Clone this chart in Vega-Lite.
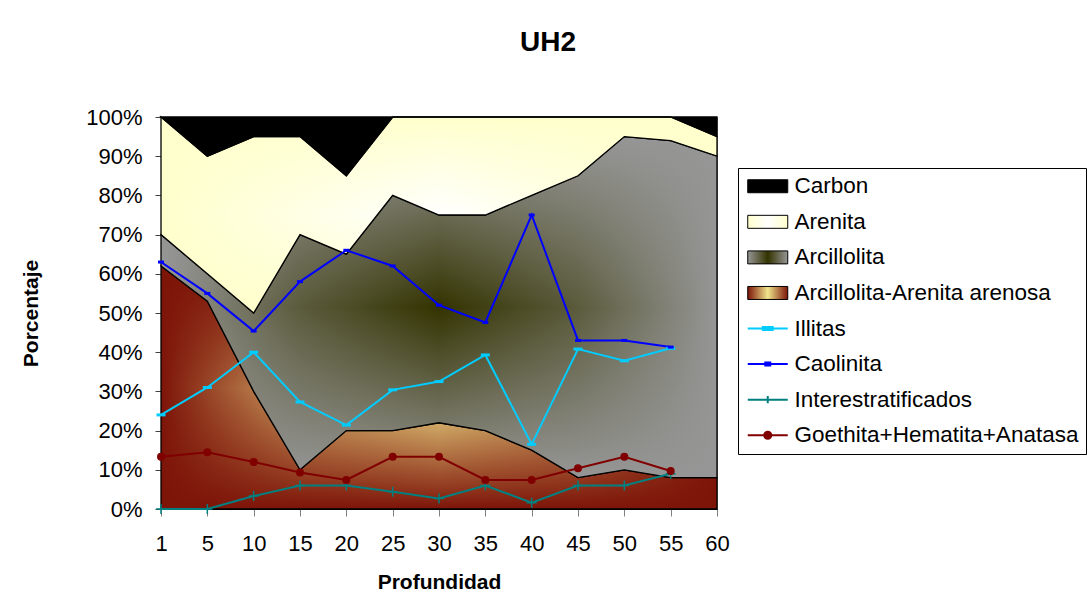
{
  "$schema": "https://vega.github.io/schema/vega-lite/v6.json",
  "width": 556,
  "height": 392,
  "autosize": {"type": "none"},
  "padding": {"left": 161, "top": 117, "right": 374, "bottom": 95},
  "background": "#ffffff",
  "title": {"text": "UH2", "fontSize": 28, "fontWeight": "bold", "font": "Liberation Sans", "anchor": "middle", "frame": "group", "dx": 109, "offset": 49, "color": "#000000"},
  "datasets": {
    "areas": [
      {"p": 1, "serie": "Arcillolita-Arenita arenosa", "orden": 1, "v": 62},
      {"p": 5, "serie": "Arcillolita-Arenita arenosa", "orden": 1, "v": 53},
      {"p": 10, "serie": "Arcillolita-Arenita arenosa", "orden": 1, "v": 30},
      {"p": 15, "serie": "Arcillolita-Arenita arenosa", "orden": 1, "v": 10},
      {"p": 20, "serie": "Arcillolita-Arenita arenosa", "orden": 1, "v": 20},
      {"p": 25, "serie": "Arcillolita-Arenita arenosa", "orden": 1, "v": 20},
      {"p": 30, "serie": "Arcillolita-Arenita arenosa", "orden": 1, "v": 22},
      {"p": 35, "serie": "Arcillolita-Arenita arenosa", "orden": 1, "v": 20},
      {"p": 40, "serie": "Arcillolita-Arenita arenosa", "orden": 1, "v": 15},
      {"p": 45, "serie": "Arcillolita-Arenita arenosa", "orden": 1, "v": 8},
      {"p": 50, "serie": "Arcillolita-Arenita arenosa", "orden": 1, "v": 10},
      {"p": 55, "serie": "Arcillolita-Arenita arenosa", "orden": 1, "v": 8},
      {"p": 60, "serie": "Arcillolita-Arenita arenosa", "orden": 1, "v": 8},
      {"p": 1, "serie": "Arcillolita", "orden": 2, "v": 8},
      {"p": 5, "serie": "Arcillolita", "orden": 2, "v": 7},
      {"p": 10, "serie": "Arcillolita", "orden": 2, "v": 20},
      {"p": 15, "serie": "Arcillolita", "orden": 2, "v": 60},
      {"p": 20, "serie": "Arcillolita", "orden": 2, "v": 45},
      {"p": 25, "serie": "Arcillolita", "orden": 2, "v": 60},
      {"p": 30, "serie": "Arcillolita", "orden": 2, "v": 53},
      {"p": 35, "serie": "Arcillolita", "orden": 2, "v": 55},
      {"p": 40, "serie": "Arcillolita", "orden": 2, "v": 65},
      {"p": 45, "serie": "Arcillolita", "orden": 2, "v": 77},
      {"p": 50, "serie": "Arcillolita", "orden": 2, "v": 85},
      {"p": 55, "serie": "Arcillolita", "orden": 2, "v": 86},
      {"p": 60, "serie": "Arcillolita", "orden": 2, "v": 82},
      {"p": 1, "serie": "Arenita", "orden": 3, "v": 30},
      {"p": 5, "serie": "Arenita", "orden": 3, "v": 30},
      {"p": 10, "serie": "Arenita", "orden": 3, "v": 45},
      {"p": 15, "serie": "Arenita", "orden": 3, "v": 25},
      {"p": 20, "serie": "Arenita", "orden": 3, "v": 20},
      {"p": 25, "serie": "Arenita", "orden": 3, "v": 20},
      {"p": 30, "serie": "Arenita", "orden": 3, "v": 25},
      {"p": 35, "serie": "Arenita", "orden": 3, "v": 25},
      {"p": 40, "serie": "Arenita", "orden": 3, "v": 20},
      {"p": 45, "serie": "Arenita", "orden": 3, "v": 15},
      {"p": 50, "serie": "Arenita", "orden": 3, "v": 5},
      {"p": 55, "serie": "Arenita", "orden": 3, "v": 6},
      {"p": 60, "serie": "Arenita", "orden": 3, "v": 5},
      {"p": 1, "serie": "Carbon", "orden": 4, "v": 0},
      {"p": 5, "serie": "Carbon", "orden": 4, "v": 10},
      {"p": 10, "serie": "Carbon", "orden": 4, "v": 5},
      {"p": 15, "serie": "Carbon", "orden": 4, "v": 5},
      {"p": 20, "serie": "Carbon", "orden": 4, "v": 15},
      {"p": 25, "serie": "Carbon", "orden": 4, "v": 0},
      {"p": 30, "serie": "Carbon", "orden": 4, "v": 0},
      {"p": 35, "serie": "Carbon", "orden": 4, "v": 0},
      {"p": 40, "serie": "Carbon", "orden": 4, "v": 0},
      {"p": 45, "serie": "Carbon", "orden": 4, "v": 0},
      {"p": 50, "serie": "Carbon", "orden": 4, "v": 0},
      {"p": 55, "serie": "Carbon", "orden": 4, "v": 0},
      {"p": 60, "serie": "Carbon", "orden": 4, "v": 5}
    ],
    "lineas": [
      {"p": 1, "serie": "Illitas", "v": 24},
      {"p": 5, "serie": "Illitas", "v": 31},
      {"p": 10, "serie": "Illitas", "v": 40},
      {"p": 15, "serie": "Illitas", "v": 27.3},
      {"p": 20, "serie": "Illitas", "v": 21.4},
      {"p": 25, "serie": "Illitas", "v": 30.4},
      {"p": 30, "serie": "Illitas", "v": 32.5},
      {"p": 35, "serie": "Illitas", "v": 39.3},
      {"p": 40, "serie": "Illitas", "v": 16.5},
      {"p": 45, "serie": "Illitas", "v": 40.8},
      {"p": 50, "serie": "Illitas", "v": 37.8},
      {"p": 55, "serie": "Illitas", "v": 41},
      {"p": 1, "serie": "Caolinita", "v": 63},
      {"p": 5, "serie": "Caolinita", "v": 55},
      {"p": 10, "serie": "Caolinita", "v": 45.4},
      {"p": 15, "serie": "Caolinita", "v": 58},
      {"p": 20, "serie": "Caolinita", "v": 66},
      {"p": 25, "serie": "Caolinita", "v": 62},
      {"p": 30, "serie": "Caolinita", "v": 52},
      {"p": 35, "serie": "Caolinita", "v": 47.6},
      {"p": 40, "serie": "Caolinita", "v": 75},
      {"p": 45, "serie": "Caolinita", "v": 43},
      {"p": 50, "serie": "Caolinita", "v": 43},
      {"p": 55, "serie": "Caolinita", "v": 41.3},
      {"p": 1, "serie": "Interestratificados", "v": 0},
      {"p": 5, "serie": "Interestratificados", "v": 0},
      {"p": 10, "serie": "Interestratificados", "v": 3.3},
      {"p": 15, "serie": "Interestratificados", "v": 6},
      {"p": 20, "serie": "Interestratificados", "v": 6},
      {"p": 25, "serie": "Interestratificados", "v": 4.4},
      {"p": 30, "serie": "Interestratificados", "v": 2.7},
      {"p": 35, "serie": "Interestratificados", "v": 6},
      {"p": 40, "serie": "Interestratificados", "v": 1.6},
      {"p": 45, "serie": "Interestratificados", "v": 6},
      {"p": 50, "serie": "Interestratificados", "v": 6},
      {"p": 55, "serie": "Interestratificados", "v": 9},
      {"p": 1, "serie": "Goethita+Hematita+Anatasa", "v": 13.3},
      {"p": 5, "serie": "Goethita+Hematita+Anatasa", "v": 14.5},
      {"p": 10, "serie": "Goethita+Hematita+Anatasa", "v": 12},
      {"p": 15, "serie": "Goethita+Hematita+Anatasa", "v": 9.3},
      {"p": 20, "serie": "Goethita+Hematita+Anatasa", "v": 7.4},
      {"p": 25, "serie": "Goethita+Hematita+Anatasa", "v": 13.3},
      {"p": 30, "serie": "Goethita+Hematita+Anatasa", "v": 13.3},
      {"p": 35, "serie": "Goethita+Hematita+Anatasa", "v": 7.4},
      {"p": 40, "serie": "Goethita+Hematita+Anatasa", "v": 7.4},
      {"p": 45, "serie": "Goethita+Hematita+Anatasa", "v": 10.4},
      {"p": 50, "serie": "Goethita+Hematita+Anatasa", "v": 13.3},
      {"p": 55, "serie": "Goethita+Hematita+Anatasa", "v": 9.7}
    ]
  },
  "encoding": {
    "x": {
      "field": "p", "type": "ordinal",
      "scale": {"type": "point", "padding": 0},
      "axis": {"title": "Profundidad", "labelAngle": 0, "labelFontSize": 22, "labelFont": "Liberation Sans", "labelColor": "#000000", "tickSize": 7, "tickColor": "#808080", "domainColor": "#000000", "labelPadding": 17, "titleFontSize": 21, "titleFont": "Liberation Sans", "titleFontWeight": "bold", "titleColor": "#000000", "titlePadding": 17, "grid": false}
    }
  },
  "layer": [
    {
      "data": {"name": "areas"},
      "transform": [
        {"stack": "v", "groupby": ["p"], "sort": [{"field": "orden"}], "as": ["y0", "y1"]},
        {"filter": "datum.serie === 'Arcillolita-Arenita arenosa'"}
      ],
      "mark": {"type": "area", "strokeWidth": 0, "fill": {"gradient": "linear", "x1": 0, "y1": 0, "x2": 0, "y2": 1, "stops": [{"offset": 0, "color": "#7d1408"}, {"offset": 0.5, "color": "#f2e88e"}, {"offset": 1, "color": "#7d1408"}]}},
      "encoding": {
        "y": {"field": "y1", "type": "quantitative", "scale": {"domain": [0, 100]}, "axis": {"title": "Porcentaje", "values": [0, 10, 20, 30, 40, 50, 60, 70, 80, 90, 100], "labelExpr": "datum.value + '%'"}},
        "y2": {"field": "y0"}
      }
    },
    {
      "data": {"name": "areas"},
      "transform": [
        {"stack": "v", "groupby": ["p"], "sort": [{"field": "orden"}], "as": ["y0", "y1"]},
        {"filter": "datum.serie === 'Arcillolita-Arenita arenosa'"}
      ],
      "mark": {"type": "area", "stroke": "#000000", "strokeWidth": 1.3, "fill": {"gradient": "linear", "x1": 0, "y1": 0, "x2": 1, "y2": 0, "stops": [{"offset": 0, "color": "rgba(125,20,8,1)"}, {"offset": 0.25, "color": "rgba(125,20,8,0.3)"}, {"offset": 0.5, "color": "rgba(125,20,8,0)"}, {"offset": 0.75, "color": "rgba(125,20,8,0.3)"}, {"offset": 1, "color": "rgba(125,20,8,1)"}]}},
      "encoding": {
        "y": {"field": "y1", "type": "quantitative", "scale": {"domain": [0, 100]}, "axis": {"title": "Porcentaje", "values": [0, 10, 20, 30, 40, 50, 60, 70, 80, 90, 100], "labelExpr": "datum.value + '%'"}},
        "y2": {"field": "y0"}
      }
    },
    {
      "data": {"name": "areas"},
      "transform": [
        {"stack": "v", "groupby": ["p"], "sort": [{"field": "orden"}], "as": ["y0", "y1"]},
        {"filter": "datum.serie === 'Arcillolita'"}
      ],
      "mark": {"type": "area", "strokeWidth": 0, "fill": {"gradient": "linear", "x1": 0, "y1": 0, "x2": 0, "y2": 1, "stops": [{"offset": 0, "color": "#969696"}, {"offset": 0.5, "color": "#333300"}, {"offset": 1, "color": "#969696"}]}},
      "encoding": {
        "y": {"field": "y1", "type": "quantitative", "scale": {"domain": [0, 100]}, "axis": {"title": "Porcentaje", "values": [0, 10, 20, 30, 40, 50, 60, 70, 80, 90, 100], "labelExpr": "datum.value + '%'"}},
        "y2": {"field": "y0"}
      }
    },
    {
      "data": {"name": "areas"},
      "transform": [
        {"stack": "v", "groupby": ["p"], "sort": [{"field": "orden"}], "as": ["y0", "y1"]},
        {"filter": "datum.serie === 'Arcillolita'"}
      ],
      "mark": {"type": "area", "stroke": "#000000", "strokeWidth": 1.3, "fill": {"gradient": "linear", "x1": 0, "y1": 0, "x2": 1, "y2": 0, "stops": [{"offset": 0, "color": "rgba(150,150,150,1)"}, {"offset": 0.25, "color": "rgba(150,150,150,0.4)"}, {"offset": 0.5, "color": "rgba(150,150,150,0)"}, {"offset": 0.75, "color": "rgba(150,150,150,0.4)"}, {"offset": 1, "color": "rgba(150,150,150,1)"}]}},
      "encoding": {
        "y": {"field": "y1", "type": "quantitative", "scale": {"domain": [0, 100]}, "axis": {"title": "Porcentaje", "values": [0, 10, 20, 30, 40, 50, 60, 70, 80, 90, 100], "labelExpr": "datum.value + '%'"}},
        "y2": {"field": "y0"}
      }
    },
    {
      "data": {"name": "areas"},
      "transform": [
        {"stack": "v", "groupby": ["p"], "sort": [{"field": "orden"}], "as": ["y0", "y1"]},
        {"filter": "datum.serie === 'Arenita'"}
      ],
      "mark": {"type": "area", "strokeWidth": 0, "fill": {"gradient": "linear", "x1": 0, "y1": 0, "x2": 0, "y2": 1, "stops": [{"offset": 0, "color": "#ffffcc"}, {"offset": 0.5, "color": "#ffffff"}, {"offset": 1, "color": "#ffffcc"}]}},
      "encoding": {
        "y": {"field": "y1", "type": "quantitative", "scale": {"domain": [0, 100]}, "axis": {"title": "Porcentaje", "values": [0, 10, 20, 30, 40, 50, 60, 70, 80, 90, 100], "labelExpr": "datum.value + '%'"}},
        "y2": {"field": "y0"}
      }
    },
    {
      "data": {"name": "areas"},
      "transform": [
        {"stack": "v", "groupby": ["p"], "sort": [{"field": "orden"}], "as": ["y0", "y1"]},
        {"filter": "datum.serie === 'Arenita'"}
      ],
      "mark": {"type": "area", "stroke": "#000000", "strokeWidth": 1.3, "fill": {"gradient": "linear", "x1": 0, "y1": 0, "x2": 1, "y2": 0, "stops": [{"offset": 0, "color": "rgba(255,255,204,1)"}, {"offset": 0.5, "color": "rgba(255,255,204,0)"}, {"offset": 1, "color": "rgba(255,255,204,1)"}]}},
      "encoding": {
        "y": {"field": "y1", "type": "quantitative", "scale": {"domain": [0, 100]}, "axis": {"title": "Porcentaje", "values": [0, 10, 20, 30, 40, 50, 60, 70, 80, 90, 100], "labelExpr": "datum.value + '%'"}},
        "y2": {"field": "y0"}
      }
    },
    {
      "data": {"name": "areas"},
      "transform": [
        {"stack": "v", "groupby": ["p"], "sort": [{"field": "orden"}], "as": ["y0", "y1"]},
        {"filter": "datum.serie === 'Carbon'"}
      ],
      "mark": {"type": "area", "fill": "#000000", "stroke": "#000000", "strokeWidth": 1.3},
      "encoding": {
        "y": {"field": "y1", "type": "quantitative", "scale": {"domain": [0, 100]}, "axis": {"title": "Porcentaje", "values": [0, 10, 20, 30, 40, 50, 60, 70, 80, 90, 100], "labelExpr": "datum.value + '%'"}},
        "y2": {"field": "y0"}
      }
    },
    {
      "data": {"name": "lineas"},
      "mark": {"type": "line"},
      "encoding": {
        "y": {"field": "v", "type": "quantitative", "scale": {"domain": [0, 100]}, "axis": {"title": "Porcentaje", "values": [0, 10, 20, 30, 40, 50, 60, 70, 80, 90, 100], "labelExpr": "datum.value + '%'"}},
        "strokeWidth": {"field": "serie", "type": "nominal", "scale": {"domain": ["Illitas", "Caolinita", "Interestratificados", "Goethita+Hematita+Anatasa"], "range": [2, 2, 1.5, 1.5]}, "legend": null},
        "color": {
          "field": "serie", "type": "nominal",
          "scale": {"domain": ["Carbon", "Arenita", "Arcillolita", "Arcillolita-Arenita arenosa", "Illitas", "Caolinita", "Interestratificados", "Goethita+Hematita+Anatasa"], "range": ["#000000", "#000000", "#000000", "#000000", "#00ccff", "#0000ff", "#008080", "#800000"]},
          "legend": {
            "orient": "none", "legendX": 577, "legendY": 51, "title": null,
            "symbolSize": 1260, "labelFontSize": 22.5, "labelFont": "Liberation Sans", "labelColor": "#000000", "labelOffset": 27, "padding": 7, "rowPadding": 12.57, "labelLimit": 500,
            "strokeColor": "#000000", "fillColor": "#ffffff",
            "encode": {
              "symbols": {
                "update": {
                  "shape": {"signal": "datum.value === 'Illitas' ? 'M-0.479,0H1.775M0.368,-0.085H0.928V0.085H0.368Z' : datum.value === 'Caolinita' ? 'M-0.479,0H1.775M0.508,-0.085H0.788V0.085H0.508Z' : datum.value === 'Interestratificados' ? 'M-0.479,0H1.775M0.648,-0.2V0.2' : datum.value === 'Goethita+Hematita+Anatasa' ? 'M-0.479,0H1.775M0.848,0A0.2,0.2,0,1,1,0.448,0A0.2,0.2,0,1,1,0.848,0Z' : 'M-0.479,-0.366H1.775V0.366H-0.479Z'"},
                  "fill": {"signal": "datum.value === 'Carbon' ? '#000000' : datum.value === 'Arenita' ? {gradient: 'linear', x1: 0, y1: 0, x2: 1, y2: 0, stops: [{offset: 0, color: '#ffffcc'}, {offset: 0.5, color: '#ffffff'}, {offset: 1, color: '#ffffcc'}]} : datum.value === 'Arcillolita' ? {gradient: 'linear', x1: 0, y1: 0, x2: 1, y2: 0, stops: [{offset: 0, color: '#969696'}, {offset: 0.5, color: '#333300'}, {offset: 1, color: '#969696'}]} : datum.value === 'Arcillolita-Arenita arenosa' ? {gradient: 'linear', x1: 0, y1: 0, x2: 1, y2: 0, stops: [{offset: 0, color: '#7d1408'}, {offset: 0.5, color: '#f0e68c'}, {offset: 1, color: '#7d1408'}]} : scale('color', datum.value)"},
                  "stroke": {"signal": "scale('color', datum.value)"},
                  "strokeWidth": {"signal": "indexof(['Illitas', 'Caolinita', 'Interestratificados', 'Goethita+Hematita+Anatasa'], datum.value) >= 0 ? 2 : 1"},
                  "opacity": {"value": 1}
                }
              }
            }
          }
        }
      }
    },
    {
      "data": {"name": "lineas"},
      "transform": [{"filter": "datum.serie === 'Illitas'"}],
      "mark": {"type": "point", "shape": "M-1,-0.33H1V0.33H-1Z", "size": 81, "filled": true, "color": "#00ccff", "opacity": 1},
      "encoding": {"y": {"field": "v", "type": "quantitative", "scale": {"domain": [0, 100]}, "axis": {"title": "Porcentaje", "values": [0, 10, 20, 30, 40, 50, 60, 70, 80, 90, 100], "labelExpr": "datum.value + '%'"}}}
    },
    {
      "data": {"name": "lineas"},
      "transform": [{"filter": "datum.serie === 'Caolinita'"}],
      "mark": {"type": "point", "shape": "M-1,-0.5H1V0.5H-1Z", "size": 36, "filled": true, "color": "#0000ff", "opacity": 1},
      "encoding": {"y": {"field": "v", "type": "quantitative", "scale": {"domain": [0, 100]}, "axis": {"title": "Porcentaje", "values": [0, 10, 20, 30, 40, 50, 60, 70, 80, 90, 100], "labelExpr": "datum.value + '%'"}}}
    },
    {
      "data": {"name": "lineas"},
      "transform": [{"filter": "datum.serie === 'Interestratificados'"}],
      "mark": {"type": "point", "shape": "M-1,0H1M0,-1V1", "size": 100, "filled": false, "color": "#008080", "strokeWidth": 1.5, "opacity": 1},
      "encoding": {"y": {"field": "v", "type": "quantitative", "scale": {"domain": [0, 100]}, "axis": {"title": "Porcentaje", "values": [0, 10, 20, 30, 40, 50, 60, 70, 80, 90, 100], "labelExpr": "datum.value + '%'"}}}
    },
    {
      "data": {"name": "lineas"},
      "transform": [{"filter": "datum.serie === 'Goethita+Hematita+Anatasa'"}],
      "mark": {"type": "point", "shape": "circle", "size": 64, "filled": true, "color": "#800000", "opacity": 1},
      "encoding": {"y": {"field": "v", "type": "quantitative", "scale": {"domain": [0, 100]}, "axis": {"title": "Porcentaje", "values": [0, 10, 20, 30, 40, 50, 60, 70, 80, 90, 100], "labelExpr": "datum.value + '%'"}}}
    }
  ],
  "config": {
    "view": {"stroke": "#808080", "strokeWidth": 1},
    "font": "Liberation Sans",
    "axisY": {"labelFontSize": 22, "labelFont": "Liberation Sans", "labelColor": "#000000", "tickSize": 6, "tickColor": "#404040", "domainColor": "#000000", "labelPadding": 13, "titleFontSize": 21, "titleFont": "Liberation Sans", "titleFontWeight": "bold", "titleColor": "#000000", "titlePadding": 44, "grid": false}
  }
}
